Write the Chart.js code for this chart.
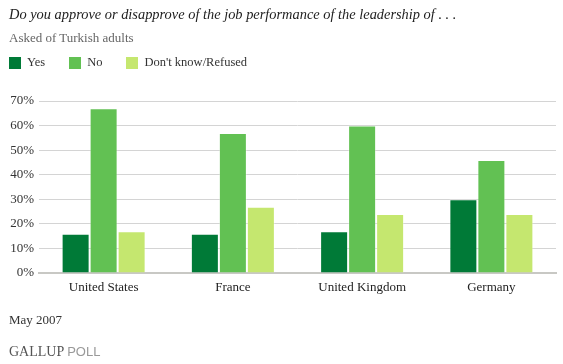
<!DOCTYPE html>
<html>
<head>
<meta charset="utf-8">
<script src="https://cdn.jsdelivr.net/npm/chart.js@4"></script>
<style>
  html, body { margin: 0; padding: 0; background: #fff; }
  #wrap { position: relative; width: 563px; height: 364px; overflow: hidden; font-family: "Liberation Serif", "DejaVu Serif", serif; }
  #chart { position: absolute; left: 0; top: 0; }
  .txt { position: absolute; white-space: nowrap; }
  #title { left: 9px; top: 6px; font-size: 14.4px; font-style: italic; color: #222; }
  #sub { left: 9px; top: 30px; font-size: 13px; color: #666; }
  #legend { left: 9px; top: 55px; font-size: 12.5px; color: #333; display: flex; }
  #legend .item { display: flex; align-items: center; margin-right: 24px; }
  #legend .box { width: 12px; height: 12px; margin-right: 6px; }
  #date { left: 9px; top: 312px; font-size: 13px; color: #333; }
  #brand { left: 9px; top: 344px; font-size: 14px; color: #555; }
  #brand .poll { font-family: "Liberation Sans", Arial, sans-serif; color: #999; font-size: 13px; }
</style>
</head>
<body>
<div id="wrap">
  <canvas id="chart" width="563" height="364"></canvas>
  <div class="txt" id="title">Do you approve or disapprove of the job performance of the leadership of . . .</div>
  <div class="txt" id="sub">Asked of Turkish adults</div>
  <div class="txt" id="legend"></div>
  <div class="txt" id="date">May 2007</div>
  <div class="txt" id="brand">GALLUP <span class="poll">POLL</span></div>
</div>
<script>
// data
const countries = ['United States', 'France', 'United Kingdom', 'Germany'];
const seriesNames = ['Yes', 'No', "Don't know/Refused"];
const yesValues = [16, 16, 17, 30];
const noValues = [67, 57, 60, 46];
const dontKnowValues = [17, 27, 24, 24];
const yTicks = [0, 10, 20, 30, 40, 50, 60, 70];

const colors = ['#007a37', '#62c153', '#c5e76f'];
const serif = '"Liberation Serif", "DejaVu Serif", serif';

// legend in html
const legendEl = document.getElementById('legend');
seriesNames.forEach((name, i) => {
    const item = document.createElement('div');
    item.className = 'item';
    item.innerHTML = '<span class="box" style="background:' + colors[i] + '"></span><span>' + name + '</span>';
    legendEl.appendChild(item);
});

const ctx = document.getElementById('chart').getContext('2d');
new Chart(ctx, {
    type: 'bar',
    data: {
        labels: countries,
        datasets: [yesValues, noValues, dontKnowValues].map((vals, i) => ({
            label: seriesNames[i],
            data: vals,
            backgroundColor: colors[i],
            borderColor: 'rgba(255,255,255,0.35)',
            borderWidth: 1,
            categoryPercentage: 0.65,
            barPercentage: 1.0
        }))
    },
    options: {
        responsive: false,
        animation: false,
        layout: { padding: { left: 0, right: 7, top: 101, bottom: 0 } },
        plugins: { legend: { display: false }, tooltip: { enabled: false } },
        scales: {
            x: {
                grid: { display: false, drawTicks: false },
                border: { display: true, color: '#c8c8c4', width: 2 },
                ticks: { color: '#222', font: { family: serif, size: 13 }, padding: 7 },
                afterFit: axis => { axis.height = 91; }
            },
            y: {
                min: 0,
                max: 70,
                afterBuildTicks: axis => { axis.ticks = yTicks.map(v => ({ value: v })); },
                grid: { color: '#d4d4d4', lineWidth: 1, drawTicks: false },
                border: { display: false },
                ticks: { color: '#333', font: { family: serif, size: 13 }, padding: 5, callback: v => v + '%' },
                afterFit: axis => { axis.width = 39; }
            }
        }
    }
});
</script>
</body>
</html>
